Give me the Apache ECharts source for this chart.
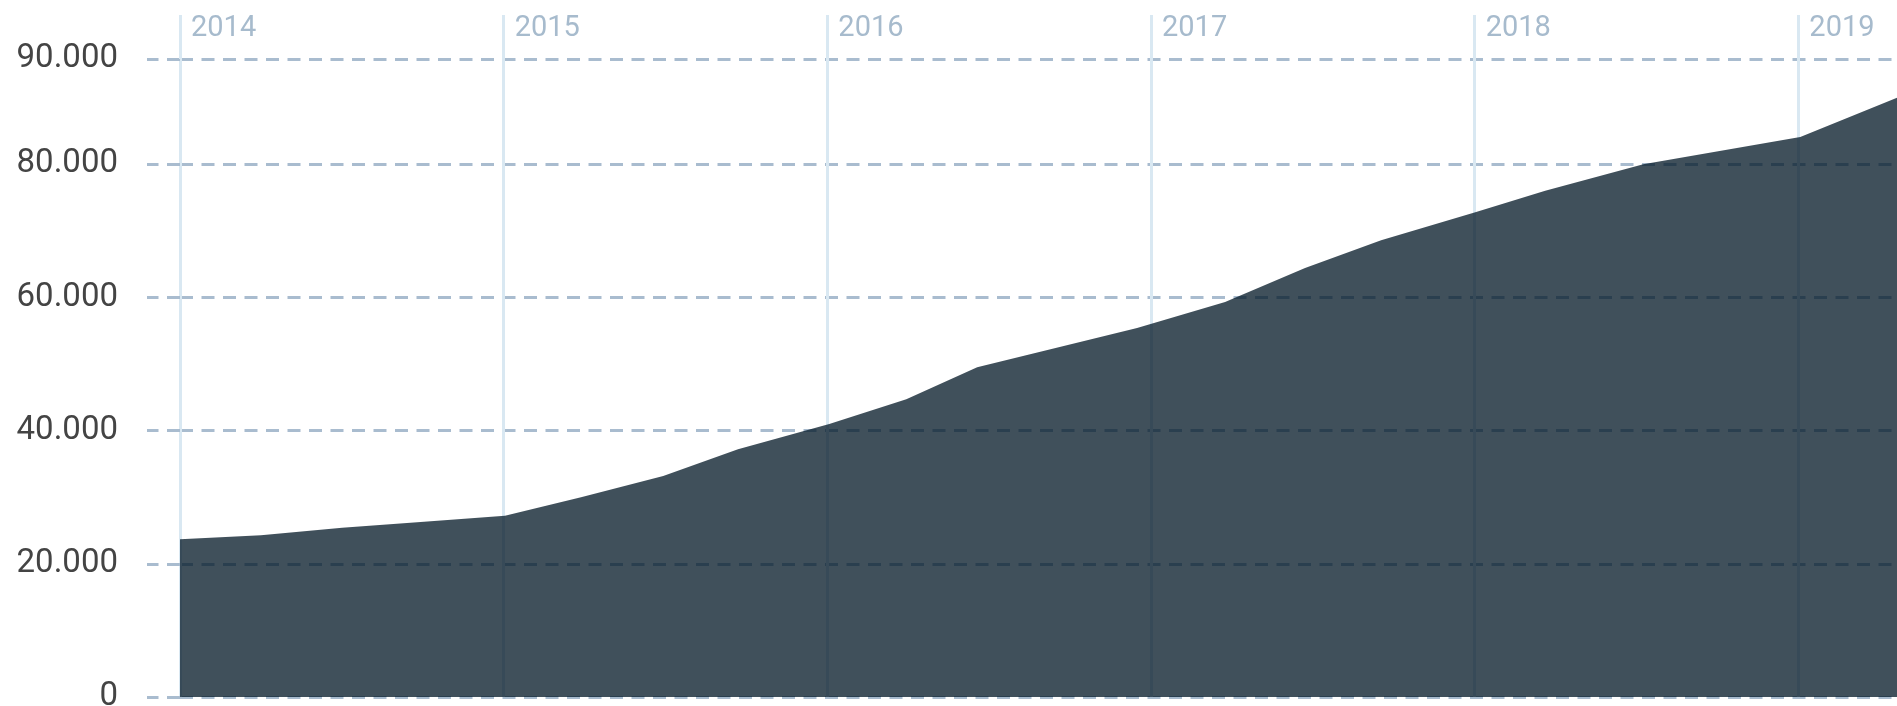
<!DOCTYPE html>
<html>
<head>
<meta charset="utf-8">
<script src="https://cdn.jsdelivr.net/npm/echarts@6/dist/echarts.min.js"></script>
<style>
  html, body { margin: 0; padding: 0; background: #fff; }
  #chart { width: 1897px; height: 706px; }
</style>
</head>
<body>
<div id="chart"></div>
<script>
// points (x as decimal year)
var pointYears = [2014.000, 2014.250, 2014.501, 2014.754, 2015.004, 2015.239, 2015.493, 2015.724,
                  2016.006, 2016.244, 2016.463, 2016.957, 2017.229, 2017.476, 2017.711, 2018.002,
                  2018.218, 2018.521, 2019.006, 2019.306];
var pointValues = [23700, 24300, 25400, 26300, 27200, 30000, 33200, 37200,
                   41000, 44700, 49500, 55400, 59300, 64400, 68600, 72800,
                   76000, 80000, 84100, 90000];

// axis ticks
var yearLabels = ['2014', '2015', '2016', '2017', '2018', '2019'];
var yTickValues = [0, 20000, 40000, 60000, 80000, 95800];
var yTickLabels = ['0', '20.000', '40.000', '60.000', '80.000', '90.000'];

var myChart = echarts.init(document.getElementById('chart'));

var seriesData = pointYears.map(function (y, i) {
  return [y, pointValues[i]];
});

var option = {
  animation: false,
  grid: {
    left: 180,
    width: 1942,   // plot runs past the right edge, 2020 falls outside
    top: 59,
    bottom: 9,
    outerBoundsMode: 'none'
  },
  xAxis: {
    type: 'value',
    position: 'top',
    min: 2014,
    max: 2020,
    interval: 1,
    axisLine: { show: false, onZero: false },
    axisTick: {
      show: true,
      length: 44,
      lineStyle: { color: '#d9e8f2', width: 3 }
    },
    axisLabel: {
      margin: 30,
      align: 'left',
      verticalAlign: 'middle',
      padding: [0, 0, 0, 11],
      color: '#a7bbcd',
      fontFamily: 'Roboto',
      fontSize: 29,
      formatter: function (v) {
        var i = yearLabels.indexOf(String(v));
        return i >= 0 ? yearLabels[i] : '';
      }
    },
    splitLine: {
      show: true,
      lineStyle: { color: '#d9e8f2', width: 3 }
    }
  },
  yAxis: {
    type: 'value',
    min: 0,
    max: 95800,
    interval: 20000,
    axisLine: { show: false, onZero: false },
    axisTick: {
      show: true,
      length: 33,
      lineStyle: { color: '#a9bccf', width: 3, type: [13, 8.5] }
    },
    axisLabel: {
      margin: 62,
      color: '#444444',
      fontFamily: 'Roboto',
      fontSize: 33,
      formatter: function (v) {
        var i = yTickValues.indexOf(v);
        return i >= 0 ? yTickLabels[i] : '';
      }
    },
    splitLine: {
      show: true,
      lineStyle: { color: '#a9bccf', width: 3, type: [13, 8.5] }
    }
  },
  series: [{
    type: 'line',
    data: seriesData,
    showSymbol: false,
    lineStyle: { width: 0 },
    areaStyle: { color: '#001624', opacity: 0.75, origin: 'start' }
  }]
};

myChart.setOption(option);
</script>
</body>
</html>
